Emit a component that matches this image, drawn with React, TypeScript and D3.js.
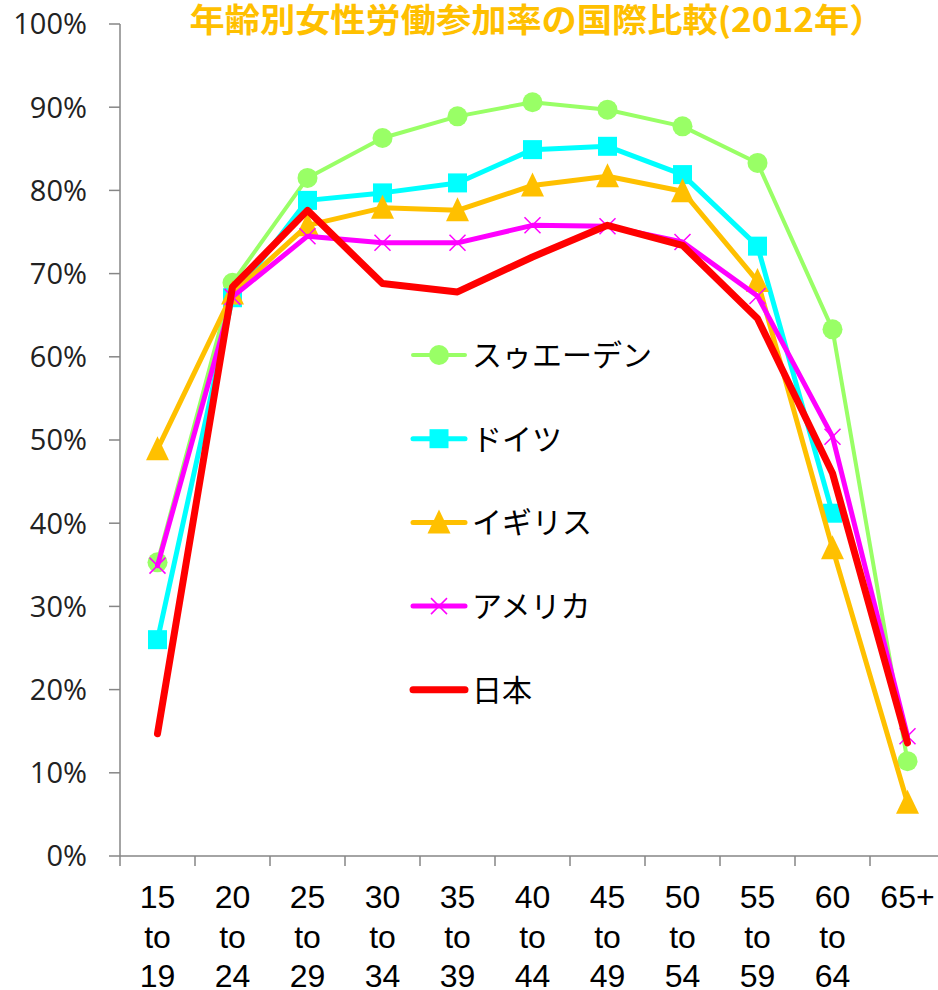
import { useEffect, useRef } from 'react';
import * as d3 from 'd3';

// data
const ageGroups = ['15-19', '20-24', '25-29', '30-34', '35-39', '40-44', '45-49', '50-54', '55-59', '60-64', '65+'];
const ageLabels = [
  ['15', 'to', '19'], ['20', 'to', '24'], ['25', 'to', '29'], ['30', 'to', '34'],
  ['35', 'to', '39'], ['40', 'to', '44'], ['45', 'to', '49'], ['50', 'to', '54'],
  ['55', 'to', '59'], ['60', 'to', '64'], ['65+'],
];
const yTicks = [0, 0.1, 0.2, 0.3, 0.4, 0.5, 0.6, 0.7, 0.8, 0.9, 1.0];

const sweden = [35.3, 68.9, 81.5, 86.3, 88.9, 90.6, 89.7, 87.7, 83.3, 63.3, 11.4];
const germany: (number | null)[] = [26.0, 67.1, 78.8, 79.7, 80.9, 84.9, 85.3, 81.9, 73.3, 41.2, null];
const uk = [48.9, 67.6, 75.8, 77.9, 77.6, 80.6, 81.7, 79.9, 69.1, 37.0, 6.4];
const usa = [34.9, 67.2, 74.5, 73.7, 73.7, 75.8, 75.7, 73.8, 67.3, 50.4, 14.4];
const japan = [14.7, 68.4, 77.6, 68.8, 67.8, 72.0, 75.8, 73.4, 64.6, 46.0, 13.6];

const seriesNames = ['スゥエーデン', 'ドイツ', 'イギリス', 'アメリカ', '日本'];
const seriesValues = [sweden, germany, uk, usa, japan];
const seriesColors = ['#99FF66', '#00FFFF', '#FFC000', '#FF00FF', '#FF0000'];
const seriesMarkers = ['circle', 'square', 'triangle', 'cross', 'none'];
const seriesWidths = [4, 5, 5, 5, 7];

const title = '年齢別女性労働参加率の国際比較(2012年）';

const W = 938;
const H = 990;

const drawMarker = (g: d3.Selection<SVGGElement, unknown, null, undefined>, kind: string, color: string, x: number, y: number) => {
  if (kind === 'circle') {
    g.append('circle').attr('cx', x).attr('cy', y).attr('r', 10).attr('fill', color);
  } else if (kind === 'square') {
    g.append('rect').attr('x', x - 9.5).attr('y', y - 9.5).attr('width', 19).attr('height', 19).attr('fill', color);
  } else if (kind === 'triangle') {
    g.append('path').attr('d', `M${x},${y - 13}L${x + 11.5},${y + 11}L${x - 11.5},${y + 11}Z`).attr('fill', color);
  } else if (kind === 'cross') {
    g.append('path')
      .attr('d', `M${x - 8},${y - 8}L${x + 8},${y + 8}M${x - 8},${y + 8}L${x + 8},${y - 8}`)
      .attr('stroke', color)
      .attr('stroke-width', 1.5)
      .attr('fill', 'none');
  }
};

export default function App() {
  const ref = useRef<SVGSVGElement | null>(null);

  useEffect(() => {
    const svg = d3.select(ref.current);
    svg.selectAll('*').remove();

    const x = d3.scaleBand<string>().domain(ageGroups).range([120, 945]);
    const y = d3.scaleLinear().domain([0, 1]).range([856, 24]);
    const cx = (a: string) => (x(a) ?? 0) + x.bandwidth() / 2;

    // title
    svg
      .append('text')
      .attr('x', 537)
      .attr('y', 32)
      .attr('text-anchor', 'middle')
      .attr('font-family', '"Noto Sans CJK JP", sans-serif')
      .attr('font-weight', 'bold')
      .attr('font-size', 33)
      .attr('fill', '#FFC000')
      .attr('textLength', 695)
      .attr('lengthAdjust', 'spacingAndGlyphs')
      .text(title);

    // y axis
    const axisColor = '#868686';
    svg.append('line').attr('x1', 120).attr('x2', 120).attr('y1', y(1)).attr('y2', y(0)).attr('stroke', axisColor).attr('stroke-width', 1.5);
    yTicks.forEach(t => {
      svg.append('line').attr('x1', 109).attr('x2', 120).attr('y1', y(t)).attr('y2', y(t)).attr('stroke', axisColor).attr('stroke-width', 1.5);
      svg
        .append('text')
        .attr('x', 87)
        .attr('y', y(t))
        .attr('dy', '0.36em')
        .attr('text-anchor', 'end')
        .attr('font-family', '"Open Sans", sans-serif')
        .attr('font-size', 29)
        .attr('fill', '#222')
        .text(d3.format('.0%')(t));
    });

    // x axis
    svg.append('line').attr('x1', 120).attr('x2', 945).attr('y1', y(0)).attr('y2', y(0)).attr('stroke', axisColor).attr('stroke-width', 1.5);
    ageGroups.forEach((a, i) => {
      const left = x(a) ?? 0;
      svg.append('line').attr('x1', left).attr('x2', left).attr('y1', y(0)).attr('y2', y(0) + 10).attr('stroke', axisColor).attr('stroke-width', 1.5);
      const t = svg
        .append('text')
        .attr('text-anchor', 'middle')
        .attr('font-family', '"Liberation Sans", Arial, sans-serif')
        .attr('font-size', 32)
        .attr('fill', '#000');
      ageLabels[i].forEach((line, j) => {
        t.append('tspan').attr('x', cx(a)).attr('y', 908 + j * 39.5).text(line);
      });
    });

    // series
    const line = d3
      .line<number | null>()
      .defined(d => d != null)
      .x((_, i) => cx(ageGroups[i]))
      .y(d => y((d as number) / 100));

    seriesValues.forEach((vals, s) => {
      const g = svg.append('g');
      g.append('path')
        .attr('d', line(vals))
        .attr('fill', 'none')
        .attr('stroke', seriesColors[s])
        .attr('stroke-width', seriesWidths[s])
        .attr('stroke-linejoin', 'round')
        .attr('stroke-linecap', 'round');
      vals.forEach((v, i) => {
        if (v == null) return;
        drawMarker(g, seriesMarkers[s], seriesColors[s], cx(ageGroups[i]), y(v / 100));
      });
    });

    // legend
    seriesNames.forEach((name, s) => {
      const ly = 355 + s * 83.7;
      const g = svg.append('g');
      g.append('line')
        .attr('x1', 413)
        .attr('x2', 465)
        .attr('y1', ly)
        .attr('y2', ly)
        .attr('stroke', seriesColors[s])
        .attr('stroke-width', seriesWidths[s])
        .attr('stroke-linecap', 'round');
      drawMarker(g, seriesMarkers[s], seriesColors[s], 439, ly);
      g.append('text')
        .attr('x', 472)
        .attr('y', ly)
        .attr('dy', '0.36em')
        .attr('font-family', '"Noto Sans CJK JP", sans-serif')
        .attr('font-size', 30)
        .attr('fill', '#000')
        .text(name);
    });
  }, []);

  return (
    <svg
      ref={ref}
      width={W}
      height={H}
      style={{ position: 'absolute', left: 0, top: 0, background: '#fff' }}
    ></svg>
  );
}
